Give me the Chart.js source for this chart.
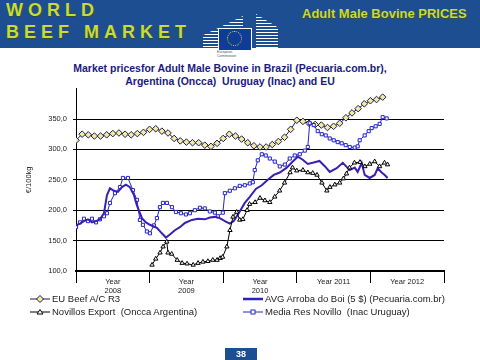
<!DOCTYPE html>
<html>
<head>
<meta charset="utf-8">
<script src="https://cdn.jsdelivr.net/npm/chart.js@4.4.1/dist/chart.umd.min.js"></script>
<style>
  body{margin:0;width:480px;height:360px;position:relative;background:#fff;overflow:hidden;font-family:Arial,"Liberation Sans",sans-serif}
  .abs{position:absolute}
  #band{left:0;top:0;width:480px;height:48px;background:#1d4e91}
  .hdr{color:#c6dc3a;font-weight:bold;text-shadow:1px 1px 0 #3a4a30;white-space:nowrap}
  #title{left:0;width:460px;top:62px;text-align:center;color:#1a1a80;font-weight:bold;font-size:10.5px;line-height:12.5px}
  .leg{font-size:9.5px;color:#222;white-space:nowrap;height:11px;line-height:11px}
  .leg svg{vertical-align:middle;margin-right:2px}
</style>
</head>
<body>
<div id="band" class="abs"></div>
<div class="abs hdr" style="left:6px;top:0px;font-size:18px;letter-spacing:5px">WORLD</div>
<div class="abs hdr" style="left:6px;top:22px;font-size:18px;letter-spacing:5px">BEEF MARKET</div>
<div class="abs hdr" style="left:302px;top:6px;font-size:13px">Adult Male Bovine PRICES</div>
<!-- simple EU logo -->
<div class="abs" style="left:203px;top:16px;width:40px;height:32px;background:repeating-linear-gradient(#fff 0 1px,#1d4e91 1px 3px);clip-path:polygon(100% 0,100% 100%,0 100%,0 60%)"></div>
<div class="abs" style="left:256px;top:14px;width:22px;height:34px;background:repeating-linear-gradient(#fff 0 1px,#1d4e91 1px 3px);clip-path:polygon(0 0,100% 40%,100% 100%,0 100%)"></div>
<div class="abs" style="left:218px;top:28px;width:32px;height:21px;background:#0d3d99;border:1px solid #fff"></div>
<div class="abs" style="left:227px;top:31px;width:13px;height:13px;border-radius:50%;border:1.5px dotted #ffd700"></div>
<div class="abs" style="left:217px;top:50px;font-size:3.5px;color:#555">European<br>Commission</div>

<div id="title" class="abs">Market pricesfor Adult Male Bovine in Brazil (Pecuaria.com.br),<br>Argentina (Oncca)&nbsp; Uruguay (Inac) and EU</div>

<div class="abs" style="left:0;top:60px;width:480px;height:240px"><canvas id="c" width="480" height="240"></canvas></div>

<div class="abs leg" style="left:30px;top:293px"><svg width="20" height="8"><line x1="0" y1="4" x2="20" y2="4" stroke="#1a1a5a" stroke-width="1"/><polygon points="10,0.5 13.5,4 10,7.5 6.5,4" fill="#f2ec9a" stroke="#1a1a5a" stroke-width="1"/></svg>EU Beef A/C R3</div>
<div class="abs leg" style="left:30px;top:306px"><svg width="20" height="8"><line x1="0" y1="4" x2="20" y2="4" stroke="#000" stroke-width="1"/><polygon points="10,1.5 13,6 7,6" fill="#fff" stroke="#000" stroke-width="1"/></svg>Novillos Export&nbsp; (Oncca Argentina)</div>
<div class="abs leg" style="left:243px;top:293px"><svg width="20" height="8"><line x1="0" y1="4" x2="20" y2="4" stroke="#2a1fc0" stroke-width="2.5"/></svg>AVG Arroba do Boi (5 $) (Pecuaria.com.br)</div>
<div class="abs leg" style="left:243px;top:306px"><svg width="20" height="8"><line x1="0" y1="4" x2="20" y2="4" stroke="#2424cc" stroke-width="1"/><rect x="8" y="2" width="4" height="4" fill="#fff" stroke="#2424cc" stroke-width="1"/></svg>Media Res Novillo&nbsp; (Inac Uruguay)</div>

<div class="abs" style="left:225px;top:348px;width:32px;height:12px;background:#1d4e91;color:#fff;font-weight:bold;font-size:9px;text-align:center;line-height:12px">38</div>

<script>
// months since Jan 2008
const euMonths = [0,1,2,3,4,5,6,7,8,9,10,11,12,13,14,15,16,17,18,19,20,21,22,23,24,25,26,27,28,29,30,31,32,33,34,35,36,37,38,39,40,41,42,43,44,45,46,47,48,49,50];
const euValues = [315,325,324,322,322,324,326,327,325,324,326,328,333,334,330,327,318,314,312,311,311,307,305,310,318,325,322,317,311,306,304,304,308,313,320,333,348,346,343,341,340,336,338,343,352,360,367,375,380,382,386];

const brMonths = [0,0.65,1.3,1.95,2.6,3.26,3.9,4.56,5.05,5.54,6.19,6.84,7.49,8.14,8.79,9.45,9.93,10.75,11.4,12.05,13.19,14.0,14.66,15.31,16.12,16.94,17.75,18.89,19.87,21.0,21.82,22.64,23.45,24.27,25.08,25.73,26.7,27.52,28.34,29.32,30.29,31.27,32.25,33.22,34.36,35.34,36.16,36.97,37.79,38.6,39.7,40.6,41.37,42.5,43.5,44.63,45.44,45.93,46.58,47.07,47.88,48.7,49.19,49.84,50.33,50.81];
const brValues = [175,178,182,185,180,182,185,195,225,236,232,230,238,242,238,225,208,187,180,176,171,162,155,160,167,172,179,184,186,185,188,189,187,182,178,182,198,212,222,235,241,250,258,262,270,280,288,283,276,278,281,272,263,269,278,266,270,263,278,258,253,258,269,262,258,253];

const arMonths = [12.4,13.0,13.7,14.2,14.8,15.0,15.6,16.5,17.3,18.1,19.1,19.9,20.7,21.5,22.3,23.0,23.5,23.9,24.6,25.1,25.6,26.2,26.7,27.2,27.9,28.3,29.2,30.0,30.8,31.6,32.4,33.2,34.0,34.9,35.3,36.0,37.0,37.8,38.6,39.3,40.1,40.9,41.4,42.2,43.0,43.6,44.1,44.6,45.4,46.3,47.1,47.9,48.7,49.5,50.3,50.8];
const arValues = [110,120,130,140,148,130,128,118,113,112,110,113,115,116,118,118,121,123,140,167,189,197,184,185,200,210,213,220,216,213,222,232,245,262,270,265,266,262,261,258,245,232,238,242,245,252,260,270,278,279,272,276,280,272,278,275];

const uyMonths = [0,0.65,1.3,1.95,2.6,3.26,3.9,4.56,5.05,5.54,6.35,7.17,7.65,8.47,9.28,9.93,10.42,10.91,11.56,12.05,12.7,13.19,13.68,14.17,14.82,15.64,16.29,17.1,17.92,18.57,19.38,20.2,21.0,21.82,22.64,23.13,23.94,24.27,25.08,25.9,26.7,27.52,28.34,28.83,29.15,29.64,30.29,30.94,31.6,32.41,33.22,34.04,34.85,35.67,36.48,37.3,37.79,38.11,38.76,39.41,40.07,40.72,41.37,42.02,42.67,43.32,43.97,44.63,45.44,45.93,46.25,47.07,47.72,48.21,48.86,49.51,50.0,50.65];
const uyValues = [172,180,186,182,186,180,185,190,195,212,228,238,253,253,233,217,184,176,165,162,175,187,205,212,212,205,197,195,193,195,200,204,203,198,196,190,196,228,232,236,240,241,244,246,266,282,292,290,285,280,272,275,285,290,292,298,304,343,340,330,325,323,318,315,312,310,307,304,303,305,315,323,330,335,338,342,353,351];

const yearTicks = [0,6,12,18,24,30,36,42,48,54,60];
const yearLabels = {6:['Year','2008'],18:['Year','2009'],30:['Year','2010'],42:'Year 2011',54:'Year 2012'};

const pts = (xs, ys) => xs.map((x,i)=>({x, y: ys[i]}));

const ctx = document.getElementById('c').getContext('2d');
new Chart(ctx, {
  type: 'line',
  data: { datasets: [
    { label:'Novillos Export  (Oncca Argentina)', data: pts(arMonths, arValues), borderColor:'#000', borderWidth:1,
      pointStyle:'triangle', pointRadius:2.5, pointBackgroundColor:'#fff', pointBorderColor:'#000', pointBorderWidth:1, tension:0 },
    { label:'AVG Arroba do Boi (5 $) (Pecuaria.com.br)', data: pts(brMonths, brValues), borderColor:'#3a1fb0', borderWidth:2,
      pointRadius:0, tension:0 },
    { label:'Media Res Novillo  (Inac Uruguay)', data: pts(uyMonths, uyValues), borderColor:'#2424cc', borderWidth:1,
      pointStyle:'rect', pointRadius:2.2, pointBackgroundColor:'#fff', pointBorderColor:'#2424cc', pointBorderWidth:1, tension:0 },
    { label:'EU Beef A/C R3', data: pts(euMonths, euValues), borderColor:'#1a1a5a', borderWidth:1,
      pointStyle:'rectRot', pointRadius:3.3, pointBackgroundColor:'#f2ec9a', pointBorderColor:'#1a1a5a', pointBorderWidth:1, tension:0 }
  ]},
  options: {
    responsive:false, animation:false,
    layout:{ padding:{ left:24, right:36, top:28.6, bottom:0 } },
    plugins:{ legend:{display:false}, tooltip:{enabled:false} },
    scales:{
      x:{ type:'linear', min:0, max:60,
        afterBuildTicks: s => { s.ticks = yearTicks.map(v=>({value:v})); },
        afterFit: s => { s.height = 29; },
        grid:{ drawOnChartArea:false, tickLength:12, tickWidth:1,
          tickColor: c => (c.tick && c.tick.value % 12 === 0) ? '#000' : 'rgba(0,0,0,0)' },
        border:{ color:'#000', width:2, dash:[1,1] },
        ticks:{ autoSkip:false, maxRotation:0, padding:-6, color:'#222', font:{size:7.5, family:'Arial'},
          callback: v => yearLabels[v] || '' }
      },
      y:{ min:100, max:400,
        afterFit: s => { s.width = 52; },
        ticks:{ stepSize:50, padding:6, color:'#222', font:{size:7.5, family:'Arial'},
          callback: v => v === 400 ? '' : v.toFixed(1).replace('.', ',') },
        grid:{ tickLength:3, lineWidth:1,
          color: c => (c.tick && (c.tick.value === 400 || c.tick.value === 100)) ? 'rgba(0,0,0,0)' : '#000' },
        border:{ color:'#000', width:1 },
        title:{ display:true, text:'€/100kg', color:'#222', font:{size:7.5, family:'Arial'}, padding:0 }
      }
    }
  }
});
</script>
</body>
</html>
